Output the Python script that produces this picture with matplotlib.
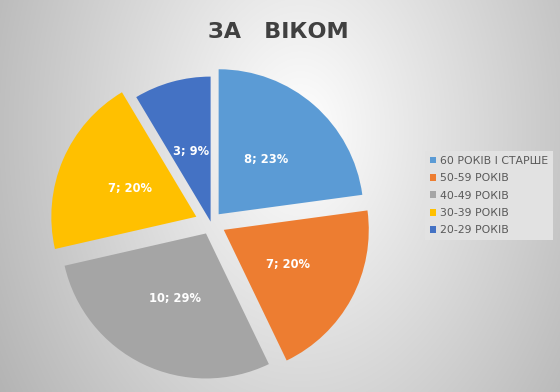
import numpy as np
import matplotlib
matplotlib.use("Agg")
import matplotlib.pyplot as plt

categories = ["60 РОКІВ І СТАРШЕ", "50-59 РОКІВ", "40-49 РОКІВ", "30-39 РОКІВ", "20-29 РОКІВ"]
values = [8, 7, 10, 7, 3]
colors = ["#5B9BD5", "#ED7D31", "#A5A5A5", "#FFC000", "#4472C4"]
explode = [0.08, 0.10, 0.08, 0.11, 0.01]
title = "ЗА   ВІКОМ"

W, H = 560, 392
fig = plt.figure(figsize=(W / 100, H / 100), dpi=100)

# background radial gradient
bg = fig.add_axes([0, 0, 1, 1])
yy, xx = np.mgrid[0:H, 0:W]
d = np.sqrt(((xx - 300) / 300.0) ** 2 + ((yy - 130) / 420.0) ** 2)
v = np.clip(1 - 0.25 * d, 0.70, 1.0)
bg.imshow(np.dstack([v, v, v]), aspect="auto", extent=[0, 1, 0, 1], origin="upper")
bg.set_axis_off()

# pie axes
cx, cy, R = 211, 223, 145
S = 360
ax = fig.add_axes([(cx - S / 2) / W, (H - cy - S / 2) / H, S / W, S / H])
ax.set_facecolor("none")
total = sum(values)
wedges, texts, autotexts = ax.pie(
    values, colors=colors, startangle=90, counterclock=False, explode=explode,
    autopct=lambda p: f"{round(p * total / 100)}; {p:.0f}%", pctdistance=0.5,
    textprops=dict(color="white", fontsize=8.3, fontweight="bold"),
    wedgeprops=dict(linewidth=0))
L = S / 2 / R
ax.set_xlim(-L, L)
ax.set_ylim(-L, L)
ax.set_axis_off()

fig.text(278.6 / W, (H - 32) / H, title, ha="center", va="center",
         fontsize=16, fontweight="bold", color="#404040")

leg = fig.legend(wedges, categories, loc="upper left", bbox_to_anchor=(425 / W, (H - 151) / H),
                 frameon=True, facecolor="#e2e2e2", edgecolor="none", framealpha=1,
                 fontsize=7.8, handlelength=0.6, handleheight=0.6, handletextpad=0.3,
                 labelspacing=0.68, borderpad=0.45, borderaxespad=0, fancybox=False)
for t in leg.get_texts():
    t.set_color("#595959")

fig.savefig("out.png", dpi=100)
